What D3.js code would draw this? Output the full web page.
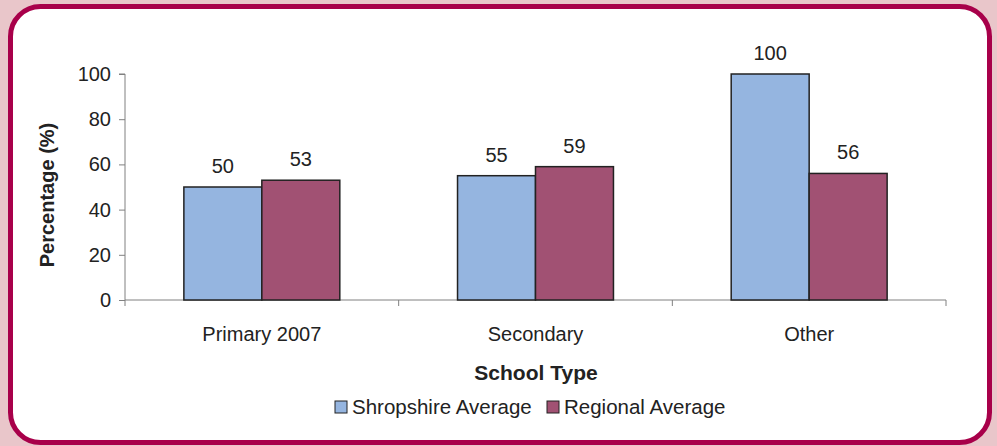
<!DOCTYPE html>
<html>
<head>
<meta charset="utf-8">
<script src="https://cdn.jsdelivr.net/npm/d3@7"></script>
<style>
  body { margin: 0; background: #e9c6ca; }
  svg { display: block; font-family: "Liberation Sans", Arial, sans-serif; }
</style>
</head>
<body>
<div id="chart"></div>
<script>
var categories = ['Primary 2007', 'Secondary', 'Other'];
var seriesNames = ['Shropshire Average', 'Regional Average'];
var shropshire = [50, 55, 100];
var regional = [53, 59, 56];
var yTicks = [0, 20, 40, 60, 80, 100];

var colors = ['#95b5e0', '#a15173'];
var W = 997, H = 446;
var fs = 20;

var svg = d3.select('#chart').append('svg').attr('width', W).attr('height', H);

// frame
svg.append('rect').attr('x', 0).attr('y', 0).attr('width', W).attr('height', H).attr('fill', '#e9c6ca');
svg.append('rect')
  .attr('x', 10.5).attr('y', 6.5).attr('width', 979).attr('height', 436)
  .attr('rx', 30).attr('ry', 30)
  .attr('fill', '#fff').attr('stroke', '#a8004a').attr('stroke-width', 5);

var plotLeft = 125, plotRight = 946, plotTop = 74, plotBottom = 300;

var x0 = d3.scaleBand().domain(categories).range([plotLeft, plotRight]).paddingInner(0).paddingOuter(0);
var x1 = d3.scaleBand().domain(seriesNames).range([0, x0.bandwidth()]).paddingInner(0).paddingOuter(0.755);
var y = d3.scaleLinear().domain([0, 100]).range([plotBottom, plotTop]);

// y axis
var yAxis = svg.append('g').attr('transform', 'translate(' + plotLeft + ',0)')
  .call(d3.axisLeft(y).tickValues(yTicks).tickSize(6).tickPadding(8));
yAxis.select('.domain').attr('stroke', '#808080').attr('d', 'M-6,' + plotTop + 'H0V' + plotBottom);
yAxis.selectAll('.tick line').attr('stroke', '#808080');
yAxis.selectAll('text').attr('font-size', fs).attr('fill', '#222').attr('font-family', '"Liberation Sans", Arial, sans-serif');

// x axis
var xAxis = svg.append('g').attr('transform', 'translate(0,' + plotBottom + ')');
xAxis.append('line').attr('x1', plotLeft).attr('x2', plotRight).attr('y1', 0).attr('y2', 0).attr('stroke', '#808080');
xAxis.selectAll('line.tk').data(categories.map(function(c) { return x0(c) + x0.bandwidth(); }).concat([plotLeft]))
  .enter().append('line').attr('class', 'tk')
  .attr('x1', function(d) { return d; }).attr('x2', function(d) { return d; })
  .attr('y1', 0).attr('y2', 6).attr('stroke', '#808080');
xAxis.selectAll('text').data(categories).enter().append('text')
  .attr('x', function(d) { return x0(d) + x0.bandwidth() / 2; })
  .attr('y', 41).attr('text-anchor', 'middle').attr('font-size', fs).attr('fill', '#222')
  .text(function(d) { return d; });

// bars
var data = [shropshire, regional];
var groups = svg.append('g').selectAll('g').data(categories).enter().append('g')
  .attr('transform', function(d) { return 'translate(' + x0(d) + ',0)'; });

groups.each(function(cat, ci) {
  var g = d3.select(this);
  seriesNames.forEach(function(s, si) {
    var v = data[si][ci];
    g.append('rect')
      .attr('x', x1(s)).attr('y', y(v))
      .attr('width', x1.bandwidth()).attr('height', y(0) - y(v))
      .attr('fill', colors[si]).attr('stroke', '#222').attr('stroke-width', 1.5);
    g.append('text')
      .attr('x', x1(s) + x1.bandwidth() / 2).attr('y', y(v) - 14)
      .attr('text-anchor', 'middle').attr('font-size', fs).attr('fill', '#222')
      .text(v);
  });
});

// axis titles
svg.append('text').attr('x', 536).attr('y', 380).attr('text-anchor', 'middle')
  .attr('font-size', 21).attr('font-weight', 'bold').attr('fill', '#222').text('School Type');
svg.append('text').attr('transform', 'translate(54,195) rotate(-90)').attr('text-anchor', 'middle')
  .attr('font-size', 20).attr('font-weight', 'bold').attr('fill', '#222').text('Percentage (%)');

// legend
var legendX = [335, 547];
seriesNames.forEach(function(s, i) {
  svg.append('rect').attr('x', legendX[i]).attr('y', 401).attr('width', 12).attr('height', 12)
    .attr('fill', colors[i]).attr('stroke', '#222').attr('stroke-width', 1);
  svg.append('text').attr('x', legendX[i] + 17).attr('y', 414).attr('font-size', 20.5).attr('fill', '#222').text(s);
});
</script>
</body>
</html>
